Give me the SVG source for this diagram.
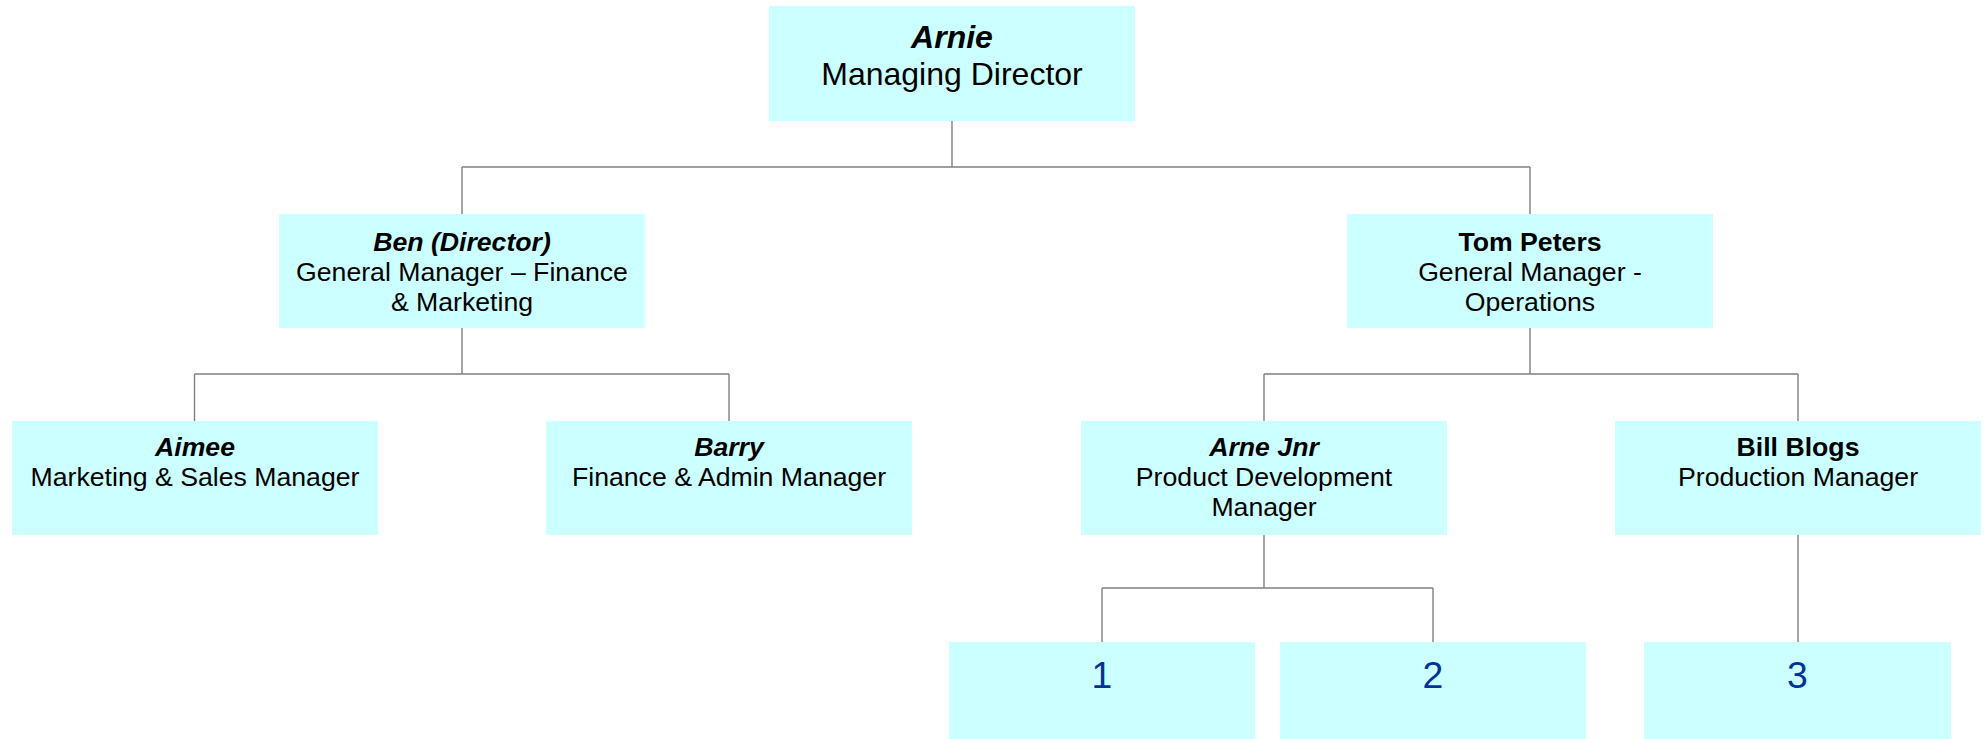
<svg xmlns="http://www.w3.org/2000/svg" width="1988" height="739" viewBox="0 0 1988 739">
  <style>
    .box { fill: #CCFFFF; }
    .conn { fill: none; stroke: #808080; stroke-width: 1.4; }
    text { font-family: "Liberation Sans", Arial, sans-serif; text-anchor: middle; fill: #000; }
    .t1 { font-size: 32px; }
    .t2 { font-size: 26.67px; }
    .name { font-weight: bold; font-style: italic; }
    .bold { font-weight: bold; }
    .num { font-size: 37.33px; fill: #003399; }
  </style>
  <rect width="1988" height="739" fill="#FFFFFF"/>

  <!-- connectors -->
  <g id="connectors" class="conn">
    <path d="M952 121V167M462 167H1530M462 167V214M1530 167V214"/>
    <path d="M462 328V374M194.5 374H729M194.5 374V421M729 374V421"/>
    <path d="M1530 328V374M1264 374H1798M1264 374V421M1798 374V421"/>
    <path d="M1264 535V588M1102 588H1433M1102 588V642M1433 588V642"/>
    <path d="M1798 535V642"/>
  </g>

  <!-- level 0 -->
  <g id="arnie">
    <rect class="box" x="769" y="6" width="366" height="115"/>
    <text class="t1 name" x="952" y="48">Arnie</text>
    <text class="t1" x="952" y="85">Managing Director</text>
  </g>

  <!-- level 1 -->
  <g id="ben">
    <rect class="box" x="279" y="214" width="366" height="114"/>
    <text class="t2 name" x="462" y="251">Ben (Director)</text>
    <text class="t2" x="462" y="281">General Manager – Finance</text>
    <text class="t2" x="462" y="311">&amp; Marketing</text>
  </g>
  <g id="tom">
    <rect class="box" x="1347" y="214" width="366" height="114"/>
    <text class="t2 bold" x="1530" y="251">Tom Peters</text>
    <text class="t2" x="1530" y="281">General Manager -</text>
    <text class="t2" x="1530" y="311">Operations</text>
  </g>

  <!-- level 2 -->
  <g id="aimee">
    <rect class="box" x="12" y="421" width="366" height="114"/>
    <text class="t2 name" x="195" y="456">Aimee</text>
    <text class="t2" x="195" y="486">Marketing &amp; Sales Manager</text>
  </g>
  <g id="barry">
    <rect class="box" x="546" y="421" width="366" height="114"/>
    <text class="t2 name" x="729" y="456">Barry</text>
    <text class="t2" x="729" y="486">Finance &amp; Admin Manager</text>
  </g>
  <g id="arne-jnr">
    <rect class="box" x="1081" y="421" width="366" height="114"/>
    <text class="t2 name" x="1264" y="456">Arne Jnr</text>
    <text class="t2" x="1264" y="486">Product Development</text>
    <text class="t2" x="1264" y="516">Manager</text>
  </g>
  <g id="bill-blogs">
    <rect class="box" x="1615" y="421" width="366" height="114"/>
    <text class="t2 bold" x="1798" y="456">Bill Blogs</text>
    <text class="t2" x="1798" y="486">Production Manager</text>
  </g>

  <!-- level 3 -->
  <g id="slot-1">
    <rect class="box" x="949" y="642" width="306" height="100"/>
    <text class="num" x="1102" y="688">1</text>
  </g>
  <g id="slot-2">
    <rect class="box" x="1280" y="642" width="306" height="100"/>
    <text class="num" x="1433" y="688">2</text>
  </g>
  <g id="slot-3">
    <rect class="box" x="1644" y="642" width="307" height="100"/>
    <text class="num" x="1797.5" y="688">3</text>
  </g>
</svg>
